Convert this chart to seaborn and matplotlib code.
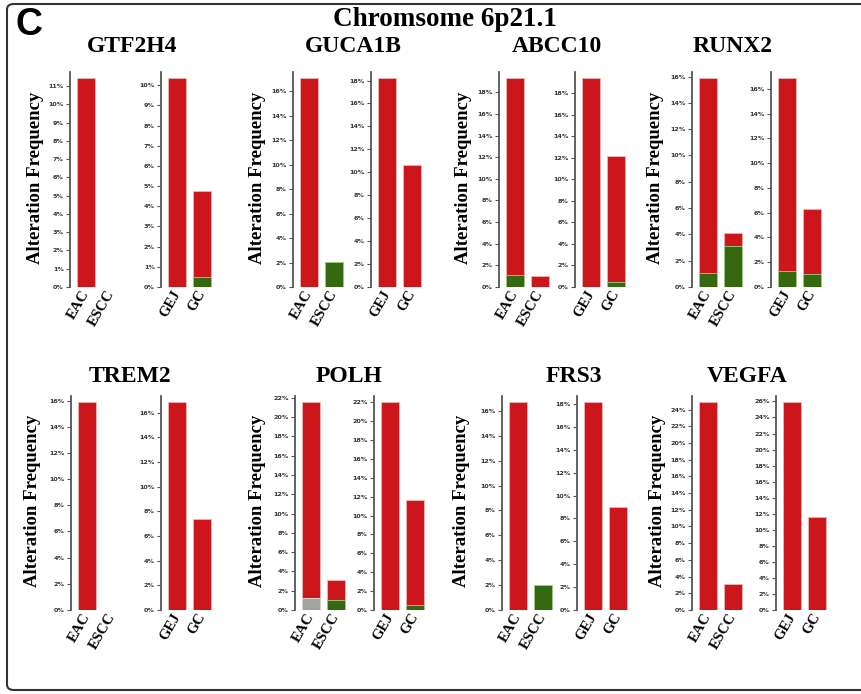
import matplotlib
matplotlib.use('Agg')
import matplotlib.pyplot as plt
import seaborn as sns
import pandas as pd
from matplotlib.patches import FancyBboxPatch
from matplotlib.ticker import MultipleLocator, FuncFormatter

# Data (alteration frequency, %)
genes = ['GTF2H4', 'GUCA1B', 'ABCC10', 'RUNX2', 'TREM2', 'POLH', 'FRS3', 'VEGFA']
left_cohorts = ['EAC', 'ESCC']
right_cohorts = ['GEJ', 'GC']

# red = amplification, green = mutation, grey = multiple alterations
eac_amp = [11.43, 17.07, 18.22, 14.82, 15.88, 20.35, 16.70, 24.87]
eac_mut = [0.0, 0.0, 1.08, 1.05, 0.0, 0.0, 0.0, 0.0]
eac_multi = [0.0, 0.0, 0.0, 0.0, 0.0, 1.20, 0.0, 0.0]
escc_amp = [0.0, 0.0, 1.02, 1.03, 0.0, 2.06, 0.0, 3.08]
escc_mut = [0.0, 2.05, 0.0, 3.09, 0.0, 1.06, 2.02, 0.0]
gej_amp = [10.35, 18.20, 19.40, 15.58, 16.84, 22.00, 18.15, 25.90]
gej_mut = [0.0, 0.0, 0.0, 1.27, 0.0, 0.0, 0.0, 0.0]
gc_amp = [4.25, 10.60, 11.73, 5.30, 7.35, 11.13, 9.00, 11.63]
gc_mut = [0.51, 0.0, 0.47, 1.03, 0.0, 0.52, 0.0, 0.0]

RED, GREEN, GREY = '#cc161c', '#36680f', '#a2a2a2'
SERIF = 'Liberation Serif'

sns.set_style('white')
plt.rcParams['font.family'] = ['DejaVu Sans']
plt.rcParams['text.color'] = 'black'

W, H = 861, 694
fig = plt.figure(figsize=(W / 100, H / 100), dpi=100)

# layout in pixels
axes_x = [(70, 161), (293, 371), (499, 575), (692, 771),
          (71, 161), (295, 374), (502, 577), (692, 776)]
title_x = [132, 353, 557, 733, 130, 349, 574, 747]
ylab_x = [36, 257, 464, 655, 33, 257, 462, 657]
row_top = [72, 396]
row_h = [215, 214]
title_base = [52, 382]


def px_axes(left, top, width, height):
    return fig.add_axes([left / W, 1 - (top + height) / H, width / W, height / H])


def panel(ax, cats, amp, mut, multi):
    total = [a + m + g for a, m, g in zip(amp, mut, multi)]
    low = [m + g for m, g in zip(mut, multi)]
    kw = dict(ax=ax, order=cats, width=0.72, errorbar=None, linewidth=0.6, saturation=1)
    sns.barplot(x=cats, y=total, color=RED, edgecolor='#f0b4b4', **kw)
    sns.barplot(x=cats, y=low, color=GREEN, edgecolor='#9fd08a', **kw)
    sns.barplot(x=cats, y=multi, color=GREY, edgecolor='#dddddd', **kw)
    for p in ax.patches:
        if p.get_height() <= 0:
            p.set_visible(False)
    top = max(total) * 1.03
    ax.set_ylim(0, top)
    ax.set_xlim(-0.64, 1.5)
    ax.yaxis.set_major_locator(MultipleLocator(1 if top < 12.5 else 2))
    ax.yaxis.set_major_formatter(FuncFormatter(lambda v, _: f'{v:.0f}%'))
    for s in ['top', 'right', 'bottom']:
        ax.spines[s].set_visible(False)
    ax.spines['left'].set_color('#555555')
    ax.spines['left'].set_linewidth(1.3)
    ax.tick_params(axis='y', length=3, width=0.8, color='#555555', pad=1.5,
                   labelsize=4.6, labelcolor='#333333', left=True)
    for t in ax.get_yticklabels():
        t.set_fontweight('bold')
    ax.tick_params(axis='x', length=0, pad=3)
    ax.set_xticks(range(len(cats)))
    ax.set_xticklabels(cats, rotation=60, ha='right', va='center', rotation_mode='anchor',
                       family=SERIF, fontweight='bold', fontsize=10.5, color='black')
    ax.set_xlabel('')
    ax.set_ylabel('')
    ax.set_facecolor('none')


for i, gene in enumerate(genes):
    r = i // 4
    lx, rx = axes_x[i]
    ax1 = px_axes(lx, row_top[r], 54, row_h[r])
    panel(ax1, left_cohorts, [eac_amp[i], escc_amp[i]], [eac_mut[i], escc_mut[i]],
          [eac_multi[i], 0.0])
    ax2 = px_axes(rx, row_top[r], 54, row_h[r])
    panel(ax2, right_cohorts, [gej_amp[i], gc_amp[i]], [gej_mut[i], gc_mut[i]], [0.0, 0.0])

    fig.text(title_x[i] / W, 1 - title_base[r] / H, gene, ha='center', va='baseline',
             family=SERIF, fontweight='bold', fontsize=17, color='black')
    fig.text(ylab_x[i] / W, 1 - (row_top[r] + row_h[r] / 2 - 2) / H, 'Alteration Frequency',
             rotation=90, ha='center', va='center', family=SERIF, fontweight='bold',
             fontsize=13.5, color='black')

fig.text(445 / W, 1 - 26 / H, 'Chromsome 6p21.1', ha='center', va='baseline',
         family=SERIF, fontweight='bold', fontsize=19.5, color='black')
fig.text(29 / W, 1 - 25 / H, 'C', ha='center', va='center',
         family='Liberation Sans', fontweight='bold', fontsize=27, color='black')

border = FancyBboxPatch((7 / W, 1 - 690 / H), 900 / W, 686 / H,
                        boxstyle='round,pad=0,rounding_size=0.008',
                        transform=fig.transFigure, fill=False,
                        edgecolor='#333333', linewidth=1.5)
fig.add_artist(border)

fig.savefig('out.png', dpi=100)
